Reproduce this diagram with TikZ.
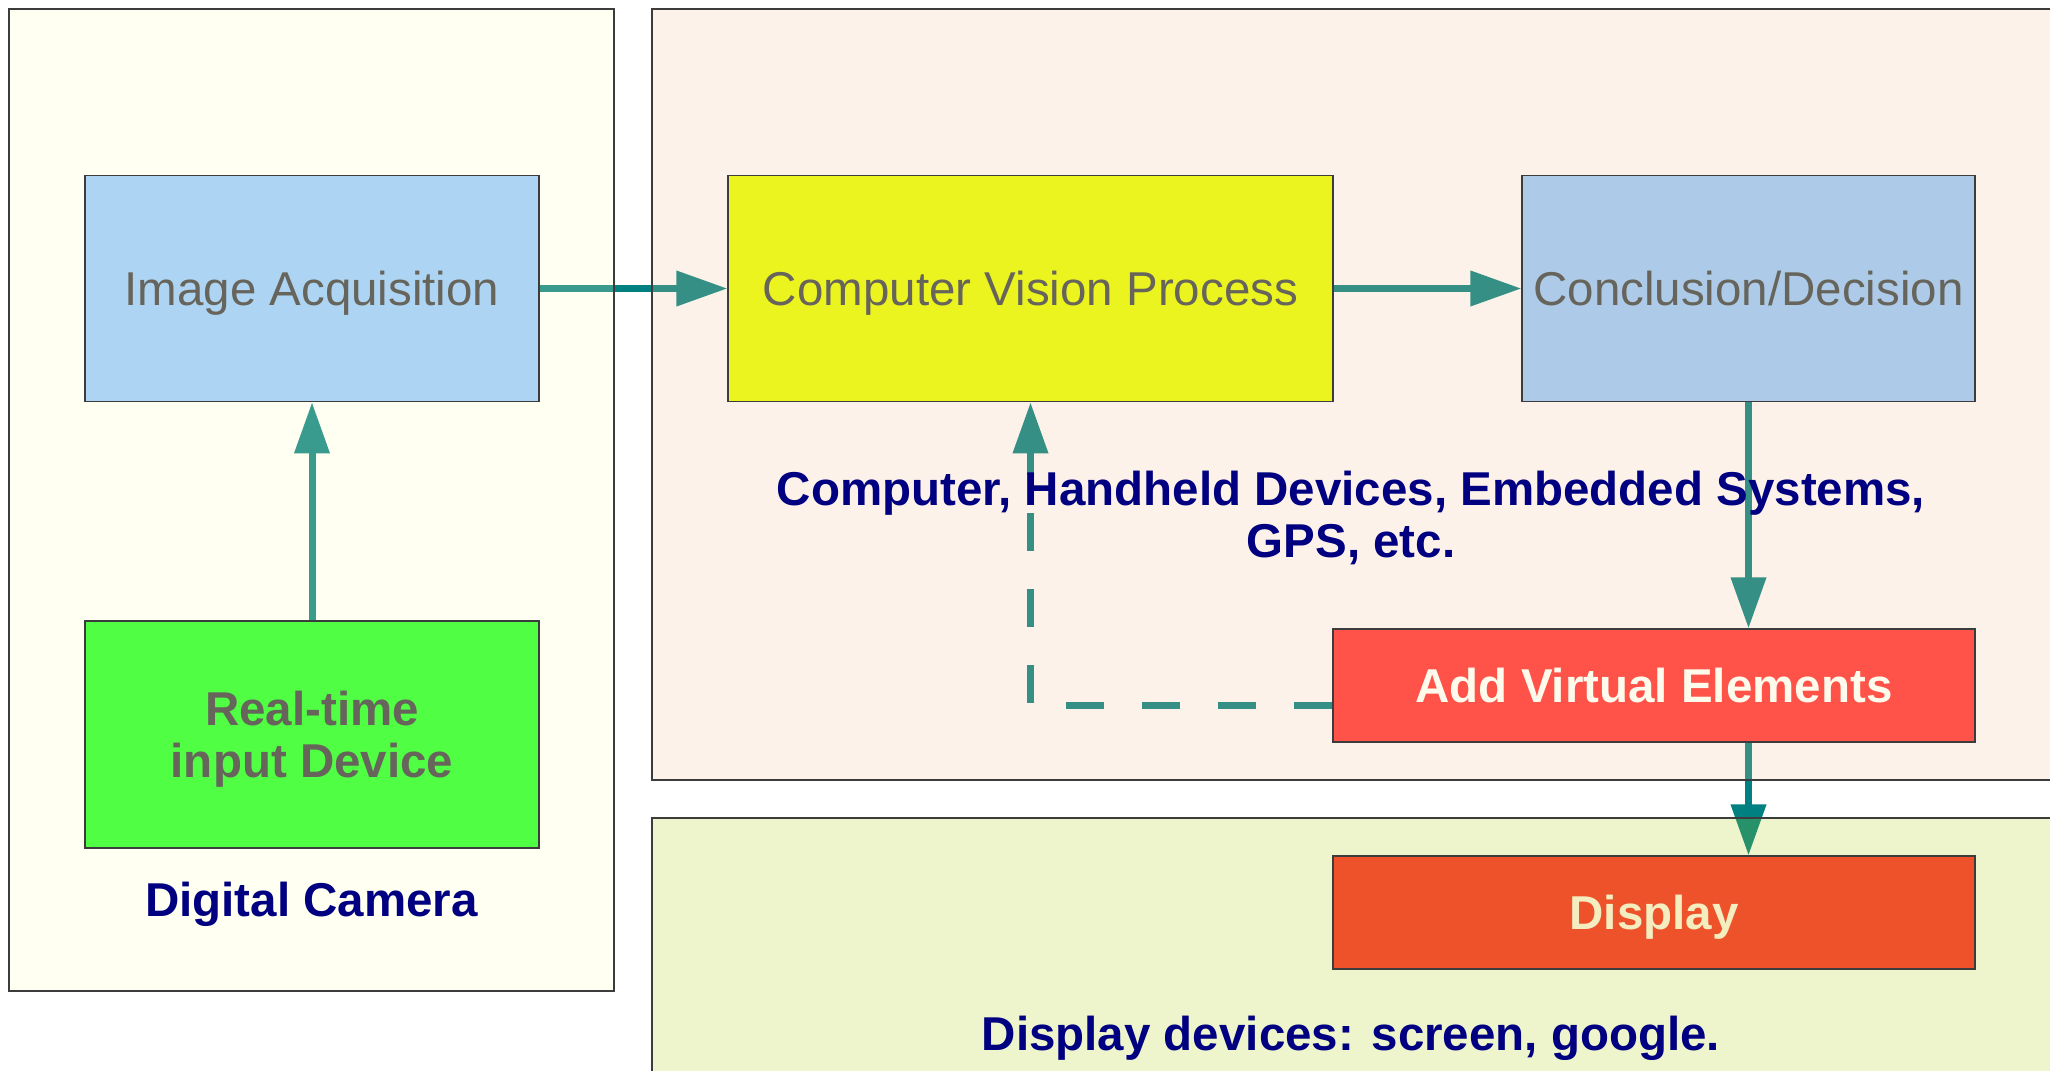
\documentclass[tikz,border=0pt]{standalone}
\usepackage{fontspec}
\setmainfont{Liberation Sans}
\usetikzlibrary{arrows.meta,calc}
\definecolor{teal0}{HTML}{008080}
\definecolor{leftC}{HTML}{FFFFC4}
\definecolor{trC}{HTML}{F6C89B}
\definecolor{botC}{HTML}{B2D21C}
\definecolor{iaC}{HTML}{ADD5F3}
\definecolor{cvC}{HTML}{ECF41F}
\definecolor{cdC}{HTML}{ADCBE8}
\definecolor{rtC}{HTML}{50FE44}
\definecolor{avC}{HTML}{FF5249}
\definecolor{dpC}{HTML}{EE522A}
\definecolor{grayT}{HTML}{66645B}
\definecolor{avT}{HTML}{FFFBEC}
\definecolor{dpT}{HTML}{F3EDC0}
\definecolor{navyT}{HTML}{000080}
\definecolor{boxline}{HTML}{3C3C3C}
\pgfdeclarelayer{arrowlayer}
\pgfdeclarelayer{panellayer}
\pgfsetlayers{arrowlayer,panellayer,main}
\begin{document}
\begin{tikzpicture}[x=1pt,y=-1pt,
  bigfont/.style={font=\fontsize{47.5}{52.4}\selectfont},
  boldfont/.style={font=\fontsize{47.5}{52.4}\selectfont\bfseries},
  box/.style={draw=boxline, line width=1.2pt, inner sep=0pt, text height=34pt, text depth=0pt, bigfont},
  boxml/.style={draw=boxline, line width=1.2pt, inner sep=0pt, align=center, boldfont},
  lbl/.style={text=navyT, boldfont, inner sep=0pt, align=center},
  panelline/.style={draw=boxline, line width=1.2pt},
  arr/.style={line width=7pt, draw=teal0, -{Triangle[length=51pt,width=34pt]}}]
\useasboundingbox (0,0) rectangle (2050,1071);
% boxes
\node[box, fill=iaC, text=grayT, minimum width=454pt, minimum height=226.5pt] (ia) at (312,288.5) {Image Acquisition};
\node[box, fill=cvC, text=grayT, minimum width=605pt, minimum height=226.5pt] (cv) at (1030.5,288.5) {Computer Vision Process};
\node[box, fill=cdC, text=grayT, minimum width=453pt, minimum height=226.5pt] (cd) at (1748.5,288.5) {Conclusion/Decision};
\node[boxml, fill=rtC, text=grayT, minimum width=454pt, minimum height=227pt] (rt) at (312,734.5) {\rule{0pt}{44pt}Real-time\\input Device};
\node[box, boldfont, fill=avC, text=avT, minimum width=642pt, minimum height=113pt] (av) at (1654,685.5) {Add Virtual Elements};
\node[box, boldfont, fill=dpC, text=dpT, minimum width=642pt, minimum height=113pt] (dp) at (1654,912.5) {Display};
% labels
\node[lbl] (devlbl) at (1351,518) {Computer, Handheld Devices, Embedded Systems,\\GPS, etc.};
\node[lbl, anchor=base] (camlbl) at (311.5,916) {Digital Camera};
\node[lbl, anchor=base] (displbl) at (1351,1050) {Display devices: screen, google.};
% panels
\begin{pgfonlayer}{panellayer}
\fill[leftC, fill opacity=0.22] (9,9) rectangle (614,991);
\draw[panelline] (9,9) rectangle (614,991);
\fill[trC, fill opacity=0.22] (652,9) rectangle (2050,780);
\draw[panelline] (2050,9) -- (652,9) -- (652,780) -- (2050,780);
\fill[botC, fill opacity=0.22] (652,818) rectangle (2050,1071);
\draw[panelline] (2050,818) -- (652,818) -- (652,1071);
\end{pgfonlayer}
% connectors
\begin{pgfonlayer}{arrowlayer}
\fill[white] (0,0) rectangle (2050,1071);
\draw[arr] (ia.east) -- (cv.west);
\draw[arr] (cv.east) -- (cd.west);
\draw[arr] (rt.north) -- (ia.south);
\draw[arr] (cd.south) -- (cd.south |- av.north);
\draw[arr] (av.south -| cd.south) -- (dp.north -| cd.south);
\coordinate (dstart) at ($(av.west)+(0,19.5)$);
\draw[arr, dash pattern=on 38pt off 38pt] (dstart) -- (dstart -| cv.south) -- (cv.south);
\end{pgfonlayer}
\end{tikzpicture}
\end{document}
